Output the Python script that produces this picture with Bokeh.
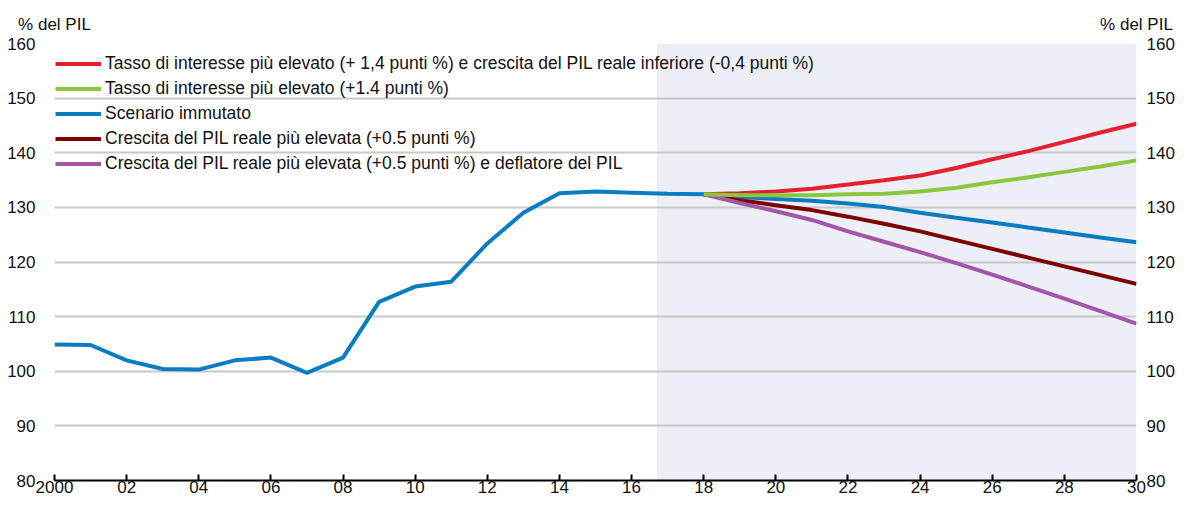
from bokeh.plotting import figure
from bokeh.models import (Range1d, LinearAxis, FixedTicker, BoxAnnotation,
                          Legend, LegendItem)
from bokeh.embed import file_html
from bokeh.resources import INLINE

# ---------------- data ----------------
years = list(range(2000, 2031))
baseline = [104.9, 104.8, 102.0, 100.4, 100.3, 102.0, 102.5, 99.7, 102.5, 112.7,
            115.5, 116.4, 123.4, 129.0, 132.6, 132.9, 132.7, 132.5, 132.4,
            131.9, 131.55, 131.2, 130.7, 130.05, 129.0, 128.1, 127.25, 126.3,
            125.4, 124.5, 123.6]

proj_years = list(range(2018, 2031))
rate_and_growth = [132.4, 132.6, 132.9, 133.4, 134.2, 134.95, 135.85, 137.2,
                   138.8, 140.3, 142.0, 143.7, 145.3]
rate_only = [132.4, 132.2, 132.2, 132.2, 132.4, 132.5, 132.9, 133.6, 134.6,
             135.5, 136.5, 137.5, 138.6]
growth_higher = [132.4, 131.3, 130.4, 129.5, 128.3, 127.0, 125.6, 124.0,
                 122.4, 120.8, 119.2, 117.6, 116.0]
growth_deflator = [132.4, 130.8, 129.3, 127.7, 125.6, 123.7, 121.8, 119.8,
                   117.7, 115.5, 113.3, 111.0, 108.7]

xtick_years = list(range(2000, 2031, 2))
xtick_labels = ["2000", "02", "04", "06", "08", "10", "12", "14", "16",
                "18", "20", "22", "24", "26", "28", "30"]
yticks = [80, 90, 100, 110, 120, 130, 140, 150, 160]
forecast_start = 2016.7

names = [
    "Tasso di interesse più elevato (+ 1,4 punti %) e crescita del PIL reale inferiore (-0,4 punti %)",
    "Tasso di interesse più elevato (+1.4 punti %)",
    "Scenario immutato",
    "Crescita del PIL reale più elevata (+0.5 punti %)",
    "Crescita del PIL reale più elevata (+0.5 punti %) e deflatore del PIL",
]
unit_label = "% del PIL"

# ---------------- style ----------------
FONT = "Liberation Sans"
FS = "17px"
RED, GREEN, BLUE, DARKRED, PURPLE = "#E3202B", "#8CC63F", "#0A7CC1", "#7F0000", "#A456A6"
TXT = "#111111"

p = figure(width=1177, height=499, output_backend="svg", toolbar_location=None,
           x_range=Range1d(2000, 2030), y_range=Range1d(80, 160),
           min_border_left=54, min_border_right=38, min_border_top=43,
           min_border_bottom=19, background_fill_color="white",
           border_fill_color="white", outline_line_color=None)

shade = BoxAnnotation(left=forecast_start, right=2030, fill_color="#ECEFF6",
                      fill_alpha=1.0, line_color=None, level="image")
p.add_layout(shade)

# grid
p.xgrid.visible = False
p.ygrid.ticker = FixedTicker(ticks=yticks)
p.ygrid.grid_line_color = "#C8C8C8"
p.ygrid.grid_line_width = 2

# x axis (bottom)
xa = p.xaxis[0]
xa.ticker = FixedTicker(ticks=xtick_years)
xa.major_label_overrides = {y: l for y, l in zip(xtick_years, xtick_labels)}
xa.axis_line_color = "black"
xa.axis_line_width = 2
xa.major_tick_in = 6
xa.major_tick_out = 0
xa.major_tick_line_width = 2
xa.major_tick_line_color = "black"
xa.minor_tick_line_color = None
xa.minor_tick_in = 0
xa.minor_tick_out = 0
xa.major_label_standoff = 0
xa.major_label_text_font = FONT
xa.major_label_text_font_size = FS
xa.major_label_text_color = TXT

# unit labels above both value axes (an axis above with two labels)
ta = LinearAxis(ticker=FixedTicker(ticks=[2000, 2030]),
                major_label_overrides={2000: unit_label, 2030: unit_label})
ta.axis_line_color = None
ta.major_tick_line_color = None
ta.minor_tick_line_color = None
ta.major_tick_in = 0
ta.major_tick_out = 0
ta.minor_tick_in = 0
ta.minor_tick_out = 0
ta.major_label_standoff = 10
ta.major_label_text_font = FONT
ta.major_label_text_font_size = FS
ta.major_label_text_color = TXT
p.add_layout(ta, "above")

# y axes
ya = p.yaxis[0]
ra = LinearAxis()
p.add_layout(ra, "right")
for ax, so in ((ya, 19), (ra, 10)):
    ax.ticker = FixedTicker(ticks=yticks)
    ax.axis_line_color = None
    ax.major_tick_line_color = None
    ax.minor_tick_line_color = None
    ax.major_tick_in = 0
    ax.major_tick_out = 0
    ax.minor_tick_in = 0
    ax.minor_tick_out = 0
    ax.major_label_standoff = so
    ax.major_label_text_font = FONT
    ax.major_label_text_font_size = FS
    ax.major_label_text_color = TXT

# lines
LW = 4
r_blue = p.line(years, baseline, line_color=BLUE, line_width=LW)
r_dred = p.line(proj_years, growth_higher, line_color=DARKRED, line_width=LW)
r_purp = p.line(proj_years, growth_deflator, line_color=PURPLE, line_width=LW)
r_red = p.line(proj_years, rate_and_growth, line_color=RED, line_width=LW)
r_green = p.line(proj_years, rate_only, line_color=GREEN, line_width=LW)

legend = Legend(items=[LegendItem(label=n, renderers=[r]) for n, r in
                       zip(names, [r_red, r_green, r_blue, r_dred, r_purp])],
                location=(1, 306), orientation="vertical",
                background_fill_alpha=0, border_line_color=None,
                padding=0, margin=0, spacing=4, glyph_width=46, glyph_height=21,
                label_height=21, label_standoff=4,
                label_text_font=FONT, label_text_font_size="17.5px",
                label_text_color=TXT)
p.add_layout(legend, "center")

open("out.html", "w").write(file_html(p, INLINE))
